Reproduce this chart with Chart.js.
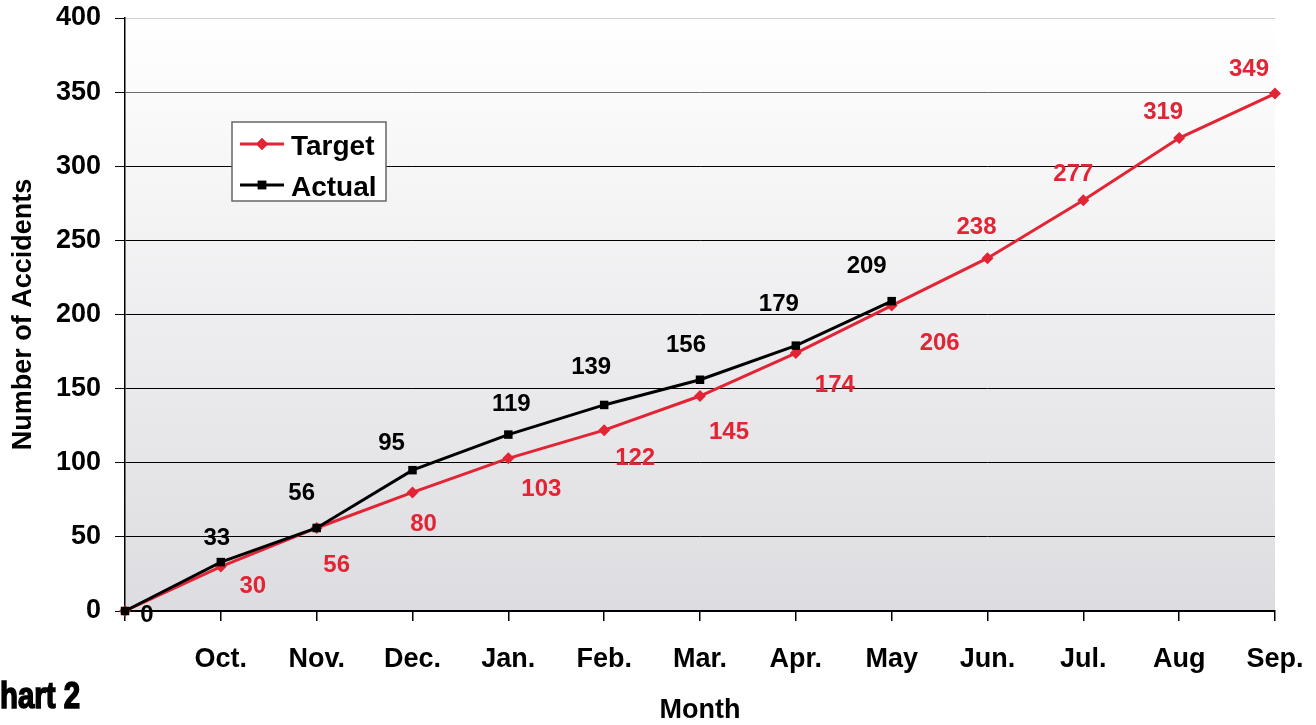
<!DOCTYPE html>
<html>
<head>
<meta charset="utf-8">
<script src="https://cdn.jsdelivr.net/npm/chart.js@4/dist/chart.umd.min.js"></script>
<style>
html,body{margin:0;padding:0;background:#fff;}
#wrap{width:1316px;height:725px;position:relative;}
</style>
</head>
<body>
<div id="wrap"><canvas id="c"></canvas></div>
<script>
// ---- data ----
const months = ['', 'Oct.', 'Nov.', 'Dec.', 'Jan.', 'Feb.', 'Mar.', 'Apr.', 'May', 'Jun.', 'Jul.', 'Aug', 'Sep.'];
const targetValues = [0, 30, 56, 80, 103, 122, 145, 174, 206, 238, 277, 319, 349];
const actualValues = [0, 33, 56, 95, 119, 139, 156, 179, 209, null, null, null, null];
const yTickValues = [0, 50, 100, 150, 200, 250, 300, 350, 400];
const seriesNames = ['Target', 'Actual'];
const captionText = 'hart 2';

// ---- style ----
const RED = 'rgb(226,36,52)';
const BLACK = '#000';
const FONT = '"Liberation Sans", Arial, Helvetica, sans-serif';
Chart.defaults.font.family = FONT;

// label offsets (layout only): [dx, dy] from the point, null = no label
const labelOffsets = {
  Target: [null, [32,20], [20,37], [11,32], [33,31], [31,28], [29,36], [39,32], [48,38], [-11,-31], [-10,-26], [-16,-26], [-26,-24]],
  Actual: [[22,4], [-4,-24], [-15,-35], [-21,-27], [3,-30], [-13,-38], [-14,-34], [-17,-41], [-25,-35], null, null, null, null]
};

const bgPlugin = {
  id: 'bgGradient',
  beforeDraw(chart) {
    const {ctx, chartArea: a} = chart;
    const g = ctx.createLinearGradient(0, a.top, 0, a.bottom);
    g.addColorStop(0, '#ffffff');
    g.addColorStop(1, 'rgb(221,221,225)');
    ctx.save();
    ctx.fillStyle = g;
    ctx.fillRect(a.left, a.top, a.right - a.left, a.bottom - a.top);
    ctx.restore();
  }
};

const labelPlugin = {
  id: 'valueLabels',
  afterDatasetsDraw(chart) {
    const ctx = chart.ctx;
    ctx.save();
    ctx.font = 'bold 24px ' + FONT;
    ctx.textAlign = 'center';
    ctx.textBaseline = 'middle';
    chart.data.datasets.forEach((ds, di) => {
      const meta = chart.getDatasetMeta(di);
      const offs = labelOffsets[ds.label];
      meta.data.forEach((pt, i) => {
        const v = ds.data[i];
        if (v === null || v === undefined || !offs[i]) return;
        ctx.fillStyle = ds.borderColor;
        ctx.fillText(String(v), pt.x + offs[i][0], pt.y + offs[i][1]);
      });
    });
    ctx.restore();
  }
};

const legendPlugin = {
  id: 'insideLegend',
  afterDraw(chart) {
    const ctx = chart.ctx;
    const bx = 232, by = 122, bw = 154, bh = 79;
    ctx.save();
    ctx.fillStyle = '#fff';
    ctx.fillRect(bx, by, bw, bh);
    ctx.strokeStyle = '#666';
    ctx.lineWidth = 1.5;
    ctx.strokeRect(bx, by, bw, bh);
    const order = ['Target', 'Actual'];
    const rows = [144, 185];
    order.forEach((name, r) => {
      const ds = chart.data.datasets.find(d => d.label === name);
      const y = rows[r];
      ctx.strokeStyle = ds.borderColor;
      ctx.lineWidth = 3;
      ctx.beginPath();
      ctx.moveTo(240, y);
      ctx.lineTo(284, y);
      ctx.stroke();
      ctx.fillStyle = ds.borderColor;
      Chart.helpers.drawPoint(ctx, {pointStyle: ds.pointStyle, radius: 6, rotation: 0, borderWidth: 0}, 262, y);
      ctx.fill();
      ctx.fillStyle = '#000';
      ctx.font = 'bold 28px ' + FONT;
      ctx.textAlign = 'left';
      ctx.textBaseline = 'middle';
      ctx.fillText(name, 291, y + 3);
    });
    ctx.restore();
  }
};

const captionPlugin = {
  id: 'caption',
  afterDraw(chart) {
    const ctx = chart.ctx;
    ctx.save();
    ctx.font = 'bold 36px ' + FONT;
    ctx.fillStyle = '#000';
    ctx.strokeStyle = '#000';
    ctx.lineWidth = 1.6;
    ctx.textBaseline = 'alphabetic';
    const w = ctx.measureText(captionText).width;
    ctx.translate(0, 708);
    ctx.scale(80 / w, 1);
    ctx.fillText(captionText, 0, 0);
    ctx.strokeText(captionText, 0, 0);
    ctx.restore();
  }
};

new Chart(document.getElementById('c'), {
  type: 'line',
  data: {
    labels: months,
    datasets: [
      {
        label: seriesNames[0],
        data: targetValues,
        borderColor: RED,
        backgroundColor: RED,
        borderWidth: 3,
        pointStyle: 'rectRot',
        pointRadius: 6,
        pointBorderWidth: 0,
        pointBackgroundColor: RED,
        tension: 0,
        clip: false,
        order: 1
      },
      {
        label: seriesNames[1],
        data: actualValues,
        borderColor: BLACK,
        backgroundColor: BLACK,
        borderWidth: 3,
        pointStyle: 'rect',
        pointRadius: 6,
        pointBorderWidth: 0,
        pointBackgroundColor: BLACK,
        tension: 0,
        clip: false,
        order: 0
      }
    ]
  },
  options: {
    responsive: true,
    maintainAspectRatio: false,
    animation: false,
    layout: {padding: {left: 0, right: 41, top: 18, bottom: 0}},
    plugins: {legend: {display: false}, tooltip: {enabled: false}},
    scales: {
      x: {
        type: 'category',
        offset: false,
        grid: {display: true, drawOnChartArea: false, drawTicks: true, tickLength: 10, color: '#000', lineWidth: 1.5},
        border: {display: true, color: '#000', width: 1.5},
        ticks: {color: '#000', font: {size: 27, weight: 'bold'}, padding: 22, maxRotation: 0, autoSkip: false},
        title: {display: true, text: 'Month', color: '#000', font: {size: 27, weight: 'bold'}, padding: {top: 0, bottom: -2}},
        afterFit(s) { s.height = 114; s.paddingLeft = 0; s.paddingRight = 0; }
      },
      y: {
        min: 0,
        max: 400,
        afterBuildTicks(s) { s.ticks = yTickValues.map(v => ({value: v})); },
        grid: {
          color: (c) => c.tick && c.tick.value === 400 ? '#cfcfcf' : (c.tick && c.tick.value === 350 ? '#6a6a6a' : '#000'),
          tickColor: '#000',
          lineWidth: 1,
          tickLength: 10
        },
        border: {display: true, color: '#000', width: 1.5},
        ticks: {color: '#000', font: {size: 27, weight: 'bold'}, padding: 14},
        title: {display: true, text: 'Number of Accidents', color: '#000', font: {size: 27, weight: 'bold'}, padding: {top: 7, bottom: 0}},
        afterFit(s) { s.width = 125; s.paddingTop = 0; s.paddingBottom = 0; }
      }
    }
  },
  plugins: [bgPlugin, labelPlugin, legendPlugin, captionPlugin]
});
</script>
</body>
</html>
